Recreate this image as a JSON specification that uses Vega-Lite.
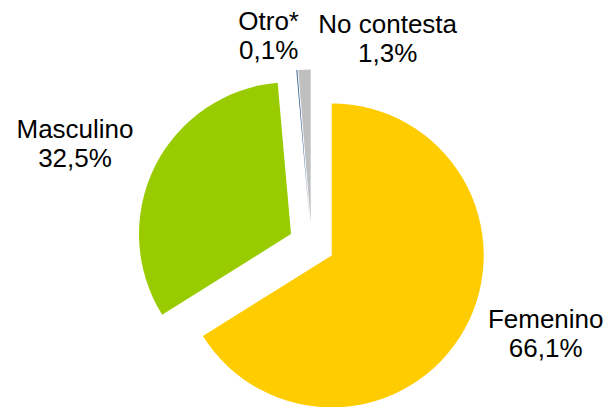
{
  "$schema": "https://vega.github.io/schema/vega-lite/v6.json",
  "width": 609,
  "height": 407,
  "autosize": {"type": "fit", "contains": "padding"},
  "padding": 0,
  "background": "white",
  "config": {"view": {"stroke": null}},
  "data": {
    "values": [
      {"cat": "Femenino", "value": 66.1, "pct": "66,1%", "order": 1},
      {"cat": "Masculino", "value": 32.5, "pct": "32,5%", "order": 2},
      {"cat": "Otro*", "value": 0.1, "pct": "0,1%", "order": 3},
      {"cat": "No contesta", "value": 1.3, "pct": "1,3%", "order": 4}
    ]
  },
  "transform": [
    {"joinaggregate": [{"op": "sum", "field": "value", "as": "total"}]},
    {"stack": "value", "groupby": [], "sort": [{"field": "order", "order": "ascending"}], "as": ["start", "end"]},
    {"calculate": "2*PI*datum.start/datum.total", "as": "a0"},
    {"calculate": "2*PI*datum.end/datum.total", "as": "a1"},
    {"calculate": "23*sin((datum.a0+datum.a1)/2)", "as": "ex"},
    {"calculate": "23*cos((datum.a0+datum.a1)/2)", "as": "ey"},
    {"calculate": "datum.cat + '\\n' + datum.pct", "as": "label"}
  ],
  "encoding": {
    "x": {"field": "ex", "type": "quantitative", "scale": {"domain": [-311.6, 297.4], "zero": false, "nice": false}, "axis": null},
    "y": {"field": "ey", "type": "quantitative", "scale": {"domain": [-161.5, 245.5], "zero": false, "nice": false}, "axis": null}
  },
  "layer": [
    {
      "mark": {"type": "arc", "outerRadius": 152},
      "encoding": {
        "theta": {"field": "a0", "type": "quantitative", "scale": null},
        "theta2": {"field": "a1"},
        "color": {
          "field": "cat",
          "type": "nominal",
          "scale": {"domain": ["Femenino", "Masculino", "Otro*", "No contesta"], "range": ["#FFCC00", "#99CC00", "#2E5B8C", "#C0C0C0"]},
          "legend": null
        }
      }
    },
    {
      "transform": [{"filter": "datum.cat == 'Femenino'"}],
      "mark": {"type": "text", "font": "Liberation Sans", "fontSize": 26, "lineHeight": 29, "lineBreak": "\n", "align": "center", "baseline": "alphabetic", "color": "#000000", "dx": 214, "dy": 73},
      "encoding": {"text": {"field": "label"}}
    },
    {
      "transform": [{"filter": "datum.cat == 'Masculino'"}],
      "mark": {"type": "text", "font": "Liberation Sans", "fontSize": 26, "lineHeight": 29, "lineBreak": "\n", "align": "center", "baseline": "alphabetic", "color": "#000000", "dx": -216, "dy": -96},
      "encoding": {"text": {"field": "label"}}
    },
    {
      "transform": [{"filter": "datum.cat == 'Otro*'"}],
      "mark": {"type": "text", "font": "Liberation Sans", "fontSize": 26, "lineHeight": 29, "lineBreak": "\n", "align": "center", "baseline": "alphabetic", "color": "#000000", "dx": -41, "dy": -191},
      "encoding": {"text": {"field": "label"}}
    },
    {
      "transform": [{"filter": "datum.cat == 'No contesta'"}],
      "mark": {"type": "text", "font": "Liberation Sans", "fontSize": 26, "lineHeight": 29, "lineBreak": "\n", "align": "center", "baseline": "alphabetic", "color": "#000000", "dx": 77, "dy": -188},
      "encoding": {"text": {"field": "label"}}
    }
  ]
}
